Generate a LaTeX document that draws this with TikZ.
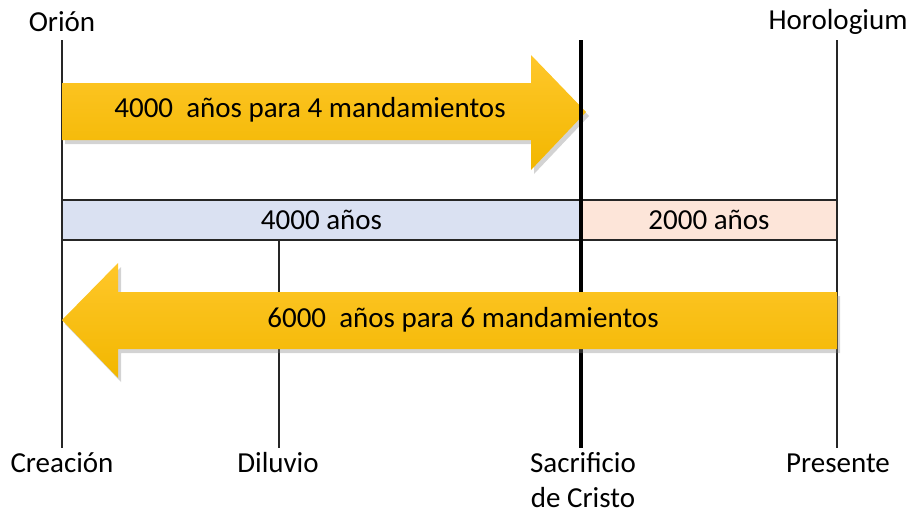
\documentclass[tikz,border=0pt]{standalone}
\usepackage{fontspec}
\setmainfont{Carlito}
\usetikzlibrary{positioning,shadows,calc}
\definecolor{oldera}{HTML}{DAE1F2}
\definecolor{newera}{HTML}{FDE5D9}
\definecolor{goldtop}{HTML}{FFC72A}
\definecolor{goldbot}{HTML}{F2B700}
\def\lbl{\fontsize{14.5}{17.5}\selectfont}

\begin{document}
\begin{tikzpicture}[x=0.5pt,y=-0.5pt,
    every node/.style={font=\lbl},
    mark line/.style={line width=0.8pt,draw=black!85},
    cross line/.style={line width=2.1pt,draw=black},
    bigarrow/.style={top color=goldtop,bottom color=goldbot,
      drop shadow={shadow xshift=1.5pt,shadow yshift=-2pt,opacity=0.35}}]
  \useasboundingbox (0,0) rectangle (914,515);

  % timeline points
  \node (orion) at (62,22) {Orión};
  \node (horo) at (838,22) {Horologium};
  \node (crea) at (62,463) {Creación};
  \node (dilu) at (278,463) {Diluvio};
  \node [align=center] (sacr) at (583,480) {Sacrificio\\de Cristo};
  \node (pres) at (838,463) {Presente};

  \foreach \n/\x/\t in {crea/62/40,dilu/279/240,sacr/581/40,pres/837/40}{
    \coordinate (\n-t) at (\x,\t);
    \coordinate (\n-b) at (\x,448);
  }
  \coordinate (band-t) at (0,200);
  \coordinate (band-b) at (0,240);

  % eras
  \fill [oldera] (crea-t |- band-t) rectangle (sacr-t |- band-b);
  \fill [newera] (sacr-t |- band-t) rectangle (pres-t |- band-b);
  \node (old) at ($(crea-t |- 0,220)!0.5!(sacr-t |- 0,220)$) {4000 años};
  \node (new) at ($(sacr-t |- 0,220)!0.5!(pres-t |- 0,220)$) {2000 años};
  \draw [mark line] (crea-t |- band-t) -- (pres-t |- band-t);
  \draw [mark line] (crea-t |- band-b) -- (pres-t |- band-b);

  \foreach \n in {crea,dilu,pres}
    \draw [mark line] (\n-t) -- (\n-b);

  % 4 mandamientos
  \path [bigarrow] (62,83) -- (531,83) -- (531,55) -- (586,112)
    -- (531,170) -- (531,140) -- (62,140) -- cycle;
  \node (four) at (310,110) {4000\ \ años para 4 mandamientos};

  \draw [cross line] (sacr-t) -- (sacr-b);

  % 6 mandamientos
  \path [bigarrow] (837,292) -- (118,292) -- (118,263) -- (62,320)
    -- (118,378) -- (118,349) -- (837,349) -- cycle;
  \node (six) at (463,320) {6000\ \ años para 6 mandamientos};
\end{tikzpicture}
\end{document}
